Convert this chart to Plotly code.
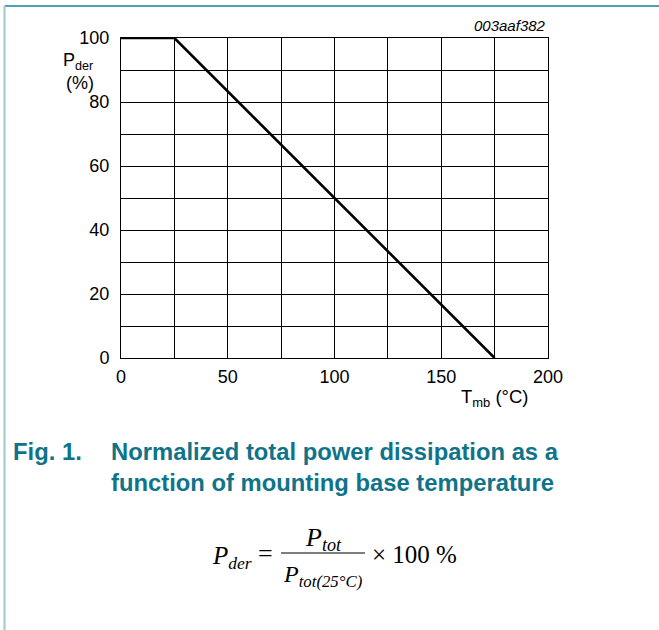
import plotly.graph_objects as go

# Data
temp_c = [0, 25, 175]
p_der_pct = [100, 100, 0]
x_ticks = [0, 50, 100, 150, 200]
y_ticks = [0, 20, 40, 60, 80, 100]

W, H = 659, 630
L, R, T, B = 121, 548, 38, 358  # plot area pixels

def px(x):
    return (x - L) / (R - L)

def py(y):
    return (B - y) / (B - T)

TEAL = "#0f7389"
SANS = "Liberation Sans, Arial, sans-serif"
SERIF = "Liberation Serif, Times New Roman, serif"

fig = go.Figure()
fig.add_trace(go.Scatter(x=temp_c, y=p_der_pct, mode="lines",
                         line=dict(color="black", width=2.6), hoverinfo="skip",
                         showlegend=False))

axis_common = dict(showline=True, linecolor="black", linewidth=1, mirror=True,
                   showgrid=True, gridcolor="black", gridwidth=1, zeroline=False,
                   ticks="", tickfont=dict(family=SANS, size=18, color="black"))

fig.update_xaxes(range=[0, 200], tickvals=x_ticks, ticklabelstandoff=2,
                 minor=dict(dtick=25, tick0=0, showgrid=True, gridcolor="black", gridwidth=1),
                 **axis_common)
fig.update_yaxes(range=[0, 100], tickvals=y_ticks, ticklabelstandoff=7,
                 minor=dict(dtick=10, tick0=0, showgrid=True, gridcolor="black", gridwidth=1),
                 **axis_common)

ann = []
def text(x, y, t, size, xanchor="center", color="black", family=SANS, yanchor="middle"):
    ann.append(dict(x=px(x), y=py(y), xref="paper", yref="paper", text=t,
                    showarrow=False, xanchor=xanchor, yanchor=yanchor,
                    font=dict(family=family, size=size, color=color)))

text(548, 25, "<i>003aaf382</i>", 15, xanchor="right")
text(61, 61, "P<sub>der</sub>", 18, xanchor="left")
text(64, 83, "(%)", 18, xanchor="left")
text(531, 398, "T<sub>mb</sub> (°C)", 18.5, xanchor="right")

text(11, 451, "<b>Fig. 1.</b>", 23.8, xanchor="left", color=TEAL)
text(109, 451, "<b>Normalized total power dissipation as a</b>", 23.8, xanchor="left", color=TEAL)
text(109, 482, "<b>function of mounting base temperature</b>", 23.8, xanchor="left", color=TEAL)

# formula
text(210, 557, "<i>P</i><sub><i>der</i></sub>", 25, xanchor="left", family=SERIF)
text(265, 553, "=", 26, family=SERIF)
text(323, 539, "<i>P</i><sub><i>tot</i></sub>", 26, family=SERIF)
text(323, 576, "<i>P</i><sub><i>tot(25°C)</i></sub>", 24, family=SERIF)
text(370, 554, "× 100 %", 25, xanchor="left", family=SERIF)

fig.update_layout(
    width=W, height=H,
    margin=dict(l=L, r=W - R, t=T, b=H - B, pad=0),
    plot_bgcolor="white", paper_bgcolor="white",
    annotations=ann,
    shapes=[
        dict(type="line", xref="paper", yref="paper", x0=px(4.5), x1=px(700),
             y0=py(6), y1=py(6), line=dict(color="#4aa3b8", width=2.2)),
        dict(type="line", xref="paper", yref="paper", x0=px(4.5), x1=px(4.5),
             y0=py(6), y1=py(640), line=dict(color="#a9c9d5", width=2.2)),
        dict(type="line", xref="paper", yref="paper", x0=px(281), x1=px(365),
             y0=py(553), y1=py(553), line=dict(color="black", width=1.2)),
    ],
)

fig.write_html("out.html", config={"displayModeBar": False},
               post_script="document.body.style.margin='0';document.body.style.overflow='hidden';")
